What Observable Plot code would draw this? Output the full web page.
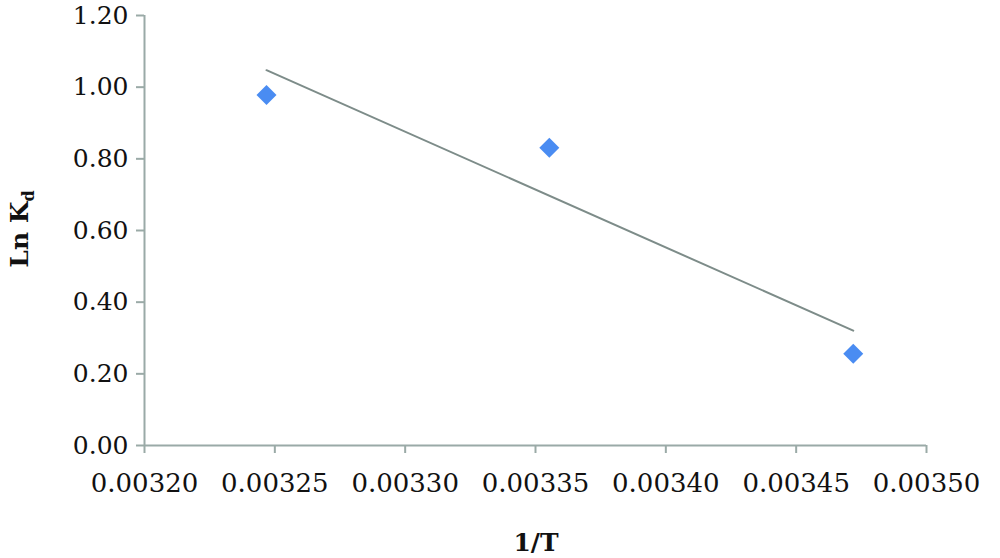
<!DOCTYPE html>
<html><head><meta charset="utf-8">
<script src="https://cdn.jsdelivr.net/npm/d3@7"></script>
<script src="https://cdn.jsdelivr.net/npm/@observablehq/plot@0.6"></script>
<style>
html,body{margin:0;padding:0;background:#fff;}
#chart{width:1000px;height:558px;}
</style></head>
<body><div id="chart"></div>
<script>
const invT = [0.0032468, 0.0033553, 0.0034719];
const lnKd = [0.978, 0.831, 0.256];
const xTicks = [0.00320, 0.00325, 0.00330, 0.00335, 0.00340, 0.00345, 0.00350];
const yTicks = [0.00, 0.20, 0.40, 0.60, 0.80, 1.00, 1.20];

const data = invT.map((x, i) => ({x, y: lnKd[i]}));
const axisColor = "#9aaaa7";

const plot = Plot.plot({
  width: 1000,
  height: 558,
  marginLeft: 144,
  marginRight: 74,
  marginTop: 15,
  marginBottom: 113,
  style: {fontFamily: "DejaVu Serif", fontSize: "26px", color: "#111", background: "#fff", overflow: "visible"},
  x: {domain: [0.00320, 0.00350], ticks: xTicks, tickFormat: d3.format(".5f"), label: null},
  y: {domain: [0, 1.2], ticks: yTicks, tickFormat: d3.format(".2f"), label: null},
  marks: [
    Plot.axisX({ticks: xTicks, tickFormat: d3.format(".5f"), tickSize: 8, tickPadding: 20, stroke: axisColor, strokeWidth: 2, strokeOpacity: 1, label: null, fontSize: 26}),
    Plot.axisY({ticks: yTicks, tickFormat: d3.format(".2f"), tickSize: 8, tickPadding: 8, stroke: axisColor, strokeWidth: 2, strokeOpacity: 1, label: null, fontSize: 25}),
    Plot.ruleX([0.00320], {stroke: axisColor, strokeWidth: 2}),
    Plot.ruleY([0], {stroke: axisColor, strokeWidth: 2}),
    Plot.linearRegressionY(data, {x: "x", y: "y", ci: 0, stroke: "#7d8c89", strokeWidth: 2}),
    Plot.dot(data, {x: "x", y: "y", symbol: "diamond2", r: 9, fill: "#4a8cf2", stroke: "none"})
  ]
});

const svg = d3.select(plot);
svg.append("text")
  .attr("x", 536).attr("y", 551)
  .attr("text-anchor", "middle")
  .attr("font-family", "DejaVu Serif").attr("font-weight", "bold").attr("font-size", 25)
  .attr("fill", "#111")
  .text("1/T");
const yl = svg.append("text")
  .attr("transform", "translate(28,229) rotate(-90)")
  .attr("text-anchor", "middle")
  .attr("font-family", "DejaVu Serif").attr("font-weight", "bold").attr("font-size", 25)
  .attr("fill", "#111");
yl.append("tspan").text("Ln K");
yl.append("tspan").attr("dy", 6).attr("font-size", 16).text("d");

document.getElementById("chart").appendChild(plot);
</script>
</body></html>
